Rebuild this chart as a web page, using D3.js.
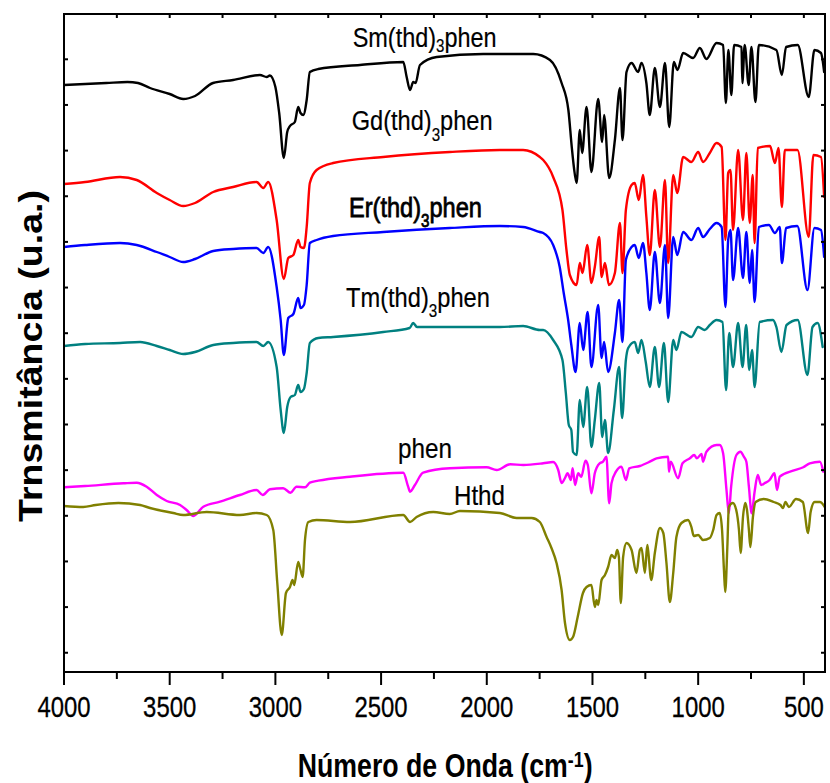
<!DOCTYPE html>
<html><head><meta charset="utf-8">
<script src="https://cdn.jsdelivr.net/npm/d3@7"></script>
<style>body{margin:0;background:#fff}svg{display:block}</style>
</head><body>
<svg id="chart" width="830" height="783"></svg>
<script>
// ---- data (wavenumber cm^-1, transmittance in arbitrary offset units) ----
const xTickLabels = [4000, 3500, 3000, 2500, 2000, 1500, 1000, 500];
const seriesNames = ["Sm(thd)3phen", "Gd(thd)3phen", "Er(thd)3phen", "Tm(thd)3phen", "phen", "Hthd"];
const seriesColors = ["#000000", "#ff0000", "#0000ff", "#008080", "#ff00ff", "#808000"];

const smData = [[4000,587],[3900,588],[3800,589],[3700,590],[3650,589],[3593,584],[3500,578],[3436,573],[3380,576],[3295,589],[3200,592],[3073,597],[3041,595],[3026,596.5],[3000,585],[2982,559],[2960,514],[2944,540],[2931,546],[2908,550],[2892,565],[2881,559],[2868,557],[2852,572],[2837,600],[2797,603],[2600,607],[2395,610],[2379,595],[2363,582],[2348,590],[2337,589],[2316,607],[2237,615],[2017,618],[1780,618],[1701,612],[1646,589],[1614,562],[1598,525],[1588,505],[1575,489],[1560,542],[1549,519],[1528,565],[1505,500],[1473,573],[1454,530],[1445,557],[1421,494],[1394,532],[1370,584],[1358,532],[1339,600],[1315,609],[1284,600],[1268,609],[1245,589],[1229,557],[1205,604],[1181,565],[1157,609],[1137,545],[1115,610],[1098,602],[1071,619],[1024,614],[992,624],[961,613],[913,629],[882,627],[869,569],[857,622],[843,577],[830,627],[795,625],[791,589],[780,627],[761,587],[748,625],[729,570],[713,627],[630,622],[604,597],[584,625],[529,627],[477,575],[450,622],[419,619],[404,600]];

const gdData = [[4000,488],[3900,490],[3735,495],[3656,492],[3561,479],[3500,472],[3436,466],[3380,469],[3294,480],[3200,485],[3089,490],[3057,484],[3034,490],[2994,452],[2960,393],[2939,414],[2915,417],[2892,432],[2881,425],[2865,424],[2852,445],[2837,489],[2805,502],[2727,509],[2490,515],[2175,520],[1938,522],[1828,522],[1749,515],[1733,512],[1686,495],[1642,462],[1623,422],[1607,397],[1575,387],[1560,409],[1547,399],[1525,427],[1505,389],[1489,405],[1468,435],[1457,395],[1441,409],[1422,387],[1394,399],[1370,449],[1358,399],[1342,462],[1315,487],[1300,489],[1281,472],[1261,497],[1245,455],[1229,417],[1205,482],[1181,425],[1157,492],[1142,409],[1118,497],[1099,479],[1071,515],[1032,510],[1000,520],[977,510],[945,519],[913,529],[889,525],[871,432],[858,499],[847,502],[835,442],[811,522],[788,452],[772,519],[756,449],[742,497],[733,429],[718,524],[660,526],[637,509],[620,524],[604,465],[590,522],[530,522],[477,435],[455,517],[419,515],[404,475]];

const erData = [[4000,425],[3900,427],[3735,429],[3656,427],[3561,420],[3500,415],[3436,410],[3380,413],[3294,421],[3200,423],[3089,424],[3057,419],[3034,425],[2994,385],[2975,352],[2960,317],[2939,354],[2915,358],[2892,374],[2881,364],[2865,367],[2852,387],[2837,429],[2805,432],[2727,436],[2490,440],[2175,444],[1938,446],[1828,445],[1749,440],[1733,439],[1686,427],[1655,405],[1636,379],[1615,352],[1600,327],[1580,300],[1560,349],[1544,322],[1523,360],[1505,305],[1473,367],[1457,314],[1445,330],[1426,300],[1394,339],[1374,372],[1358,330],[1342,412],[1315,425],[1300,427],[1281,414],[1261,429],[1245,399],[1229,362],[1205,420],[1181,369],[1157,427],[1142,354],[1118,435],[1099,417],[1071,440],[1032,432],[1000,444],[977,435],[945,443],[913,449],[889,445],[871,365],[858,432],[847,442],[835,392],[811,444],[788,394],[772,440],[756,389],[745,422],[733,370],[713,445],[665,447],[637,439],[614,445],[604,409],[584,444],[531,446],[483,382],[450,444],[419,442],[404,415]];

const tmData = [[4000,326],[3900,328],[3735,329],[3640,330],[3561,326],[3500,322],[3436,318],[3380,320],[3294,327],[3200,329],[3089,330],[3057,326],[3034,330],[2994,305],[2975,262],[2960,239],[2944,265],[2928,275],[2908,277],[2892,287],[2881,280],[2865,283],[2852,299],[2837,329],[2797,334],[2727,335],[2490,340],[2365,344],[2348,349],[2330,345],[2175,345],[1938,345],[1828,346],[1749,342],[1733,342],[1686,332],[1642,312],[1626,279],[1612,247],[1600,242],[1592,220],[1575,217],[1560,272],[1544,245],[1525,285],[1505,225],[1489,252],[1468,289],[1454,235],[1441,252],[1426,219],[1399,262],[1374,305],[1360,254],[1342,312],[1331,324],[1300,330],[1284,319],[1268,332],[1248,310],[1229,285],[1205,325],[1185,285],[1162,329],[1142,270],[1118,332],[1103,322],[1079,340],[1032,335],[1000,345],[969,342],[945,347],[913,352],[885,350],[868,282],[853,339],[835,305],[811,349],[790,305],[773,347],[758,302],[745,322],[733,285],[709,350],[646,352],[630,345],[606,320],[582,347],[529,352],[483,297],[459,345],[435,349],[411,325]];

const phenData = [[4000,184.7],[3900,186],[3719,188.7],[3656,189.3],[3609,185.3],[3561,177],[3514,171],[3451,167],[3420,162],[3388,156],[3341,165.3],[3262,170.3],[3168,177],[3089,182],[3060,177],[3026,182.7],[2963,183.7],[2928,179.3],[2900,185.3],[2860,184.7],[2837,189.3],[2797,191.3],[2647,195.3],[2395,199.3],[2372,185.3],[2363,180.3],[2340,187],[2301,199.3],[2175,203.7],[2001,204.7],[1953,202],[1890,207.7],[1827,207],[1733,208.7],[1686,210],[1662,202],[1646,189],[1630,194],[1618,198.7],[1602,192],[1594,203.7],[1582,187],[1568,198.7],[1553,195.3],[1533,211.3],[1522,207],[1505,178.7],[1489,198.7],[1466,208.7],[1450,210.3],[1434,215.3],[1421,168.7],[1410,188.7],[1389,200.3],[1363,205.3],[1342,192],[1326,203.7],[1276,206],[1229,210.3],[1197,213.7],[1142,215.3],[1138,200.3],[1130,210.3],[1095,193.7],[1074,208.7],[1039,213.7],[1019,217],[1006,213.7],[984,218],[977,210.3],[961,220.3],[913,227],[898,227],[882,218.7],[866,182],[855,158.7],[844,185.3],[819,217],[800,220.3],[784,215.3],[772,210.3],[760,185.3],[747,158.7],[733,180.3],[718,197],[702,187],[686,188.7],[662,192],[639,198.7],[627,182],[614,195.3],[551,201.3],[503,204.7],[472,208.7],[424,210.3],[408,200.3]];

const hthdData = [[4000,166],[3909,165],[3850,167],[3743,169],[3640,167],[3593,164],[3483,159],[3436,157],[3325,160],[3168,157],[3089,159],[3041,157],[3010,142],[2991,89],[2970,37],[2950,79],[2931,85],[2919,92],[2911,87],[2892,110],[2881,102],[2871,95],[2860,132],[2844,150],[2805,152],[2647,150],[2395,157],[2363,150],[2332,155],[2253,160],[2175,158],[2127,161],[1938,159],[1859,154],[1788,154],[1749,150],[1717,135],[1694,124],[1670,109],[1646,82],[1630,49],[1607,32],[1592,35],[1570,55],[1545,79],[1528,85],[1505,87],[1489,65],[1481,72],[1473,67],[1457,92],[1441,97],[1426,105],[1410,117],[1394,114],[1383,122],[1375,115],[1366,69],[1355,115],[1339,129],[1315,122],[1292,99],[1276,122],[1268,124],[1252,99],[1241,127],[1237,122],[1222,92],[1205,119],[1181,144],[1165,139],[1150,109],[1134,70],[1118,99],[1103,135],[1079,149],[1048,152],[1032,145],[1021,136],[1000,137],[977,132],[945,134],[929,142],[913,157],[898,159],[887,142],[878,102],[872,80],[862,125],[855,165],[836,169],[820,162],[807,142],[799,119],[788,155],[777,169],[769,162],[760,142],[753,125],[741,155],[728,170],[690,173],[643,170],[611,167],[599,164],[587,170],[571,165],[537,173],[505,170],[480,139],[468,160],[449,170],[424,170],[401,165]];

const allSeries = [smData, gdData, erData, tmData, phenData, hthdData];

// ---- layout ----
const L = 64, R = 825, T = 14, B = 672;
const svg = d3.select("#chart");
const FONT = "'Liberation Sans', Arial, Helvetica, sans-serif";

const x = d3.scaleLinear().domain([4000, 400]).range([L, R]);
const y = d3.scaleLinear().domain([0, 658]).range([B, T]);

svg.append("defs").append("clipPath").attr("id", "clip")
  .append("rect").attr("x", L).attr("y", T).attr("width", R - L).attr("height", B - T);

const line = d3.line().x(d => x(d[0])).y(d => y(d[1])).curve(d3.curveMonotoneX);
const plot = svg.append("g").attr("clip-path", "url(#clip)");
allSeries.forEach((s, i) => {
  plot.append("path").datum(s).attr("d", line)
    .attr("fill", "none").attr("stroke", seriesColors[i])
    .attr("stroke-width", 2.4).attr("stroke-linejoin", "round").attr("stroke-linecap", "round");
});

// ---- axes / frame ----
const ax = svg.append("g").attr("stroke", "#000").attr("stroke-width", 2);
const majorX = xTickLabels;
const minorX = d3.range(3750, 400, -500);
majorX.forEach(v => ax.append("line").attr("x1", x(v)).attr("x2", x(v)).attr("y1", B).attr("y2", B + 13));
minorX.forEach(v => ax.append("line").attr("x1", x(v)).attr("x2", x(v)).attr("y1", B).attr("y2", B + 7));
d3.range(4000, 400, -250).forEach(v => ax.append("line").attr("x1", x(v)).attr("x2", x(v)).attr("y1", T).attr("y2", T + 4));
const yTicks = d3.range(0, 14).map(k => 612.7 - 45.65 * k);
yTicks.forEach(v => {
  ax.append("line").attr("x1", L).attr("x2", L + 4).attr("y1", y(v)).attr("y2", y(v));
  ax.append("line").attr("x1", R).attr("x2", R - 4).attr("y1", y(v)).attr("y2", y(v));
});
svg.append("rect").attr("x", L).attr("y", T).attr("width", R - L).attr("height", B - T)
  .attr("fill", "none").attr("stroke", "#000").attr("stroke-width", 2);

// ---- text helper: fit text horizontally to a measured width ----
function fitText(parts, opts) {
  const g = svg.append("g");
  const t = g.append("text").attr("font-family", FONT).attr("font-size", opts.size)
    .attr("font-weight", opts.weight || "normal").attr("fill", "#000")
    .attr("text-anchor", opts.anchor || "start");
  if (opts.stroke) t.attr("stroke", "#000").attr("stroke-width", opts.stroke);
  let shift = 0;
  parts.forEach(p => {
    const ts = t.append("tspan").text(p.t);
    const want = p.dy || 0;
    ts.attr("dy", want - shift);
    shift = want;
    if (p.size) ts.attr("font-size", p.size);
  });
  const w = t.node().getComputedTextLength();
  const s = opts.width ? opts.width / w : 1;
  g.attr("transform", `translate(${opts.x},${opts.y})` + (opts.rotate ? ` rotate(${opts.rotate})` : "") + ` scale(${s},1)`);
  return g;
}

// tick labels
xTickLabels.forEach(v => fitText([{t: String(v)}], {x: x(v), y: 716.5, size: 30, anchor: "middle", width: String(v).length * 13.3, stroke: 0.3}));

// series labels
const labelPos = [
  {x: 352.7, y: 46.7, w: 144, sub: 5, stroke: 0.2},
  {x: 351.7, y: 130, w: 141, sub: 11, stroke: 0.2},
  {x: 349, y: 216.7, w: 133, sub: 10, stroke: 0.8},
  {x: 346, y: 306.7, w: 144, sub: 10, stroke: 0.2},
  {x: 398, y: 458.3, w: 54, stroke: 0.2},
  {x: 454, y: 505, w: 51, stroke: 0.2}
];
seriesNames.forEach((name, i) => {
  const p = labelPos[i];
  const m = name.match(/^(.*\))(\d)(.*)$/);
  const parts = m ? [{t: m[1]}, {t: m[2], dy: p.sub, size: 18}, {t: m[3]}] : [{t: name}];
  fitText(parts, {x: p.x, y: p.y, size: 28, width: p.w, stroke: p.stroke});
});

// axis titles
fitText([{t: "Número de Onda (cm"}, {t: "-1", dy: -10, size: 22}, {t: ")"}],
  {x: 297.7, y: 776.7, size: 33, weight: "bold", width: 295});
fitText([{t: "Trnsmitância (u.a.)"}],
  {x: 42, y: 356, size: 33, weight: "bold", anchor: "middle", rotate: -90, width: 332});
</script>
</body></html>
